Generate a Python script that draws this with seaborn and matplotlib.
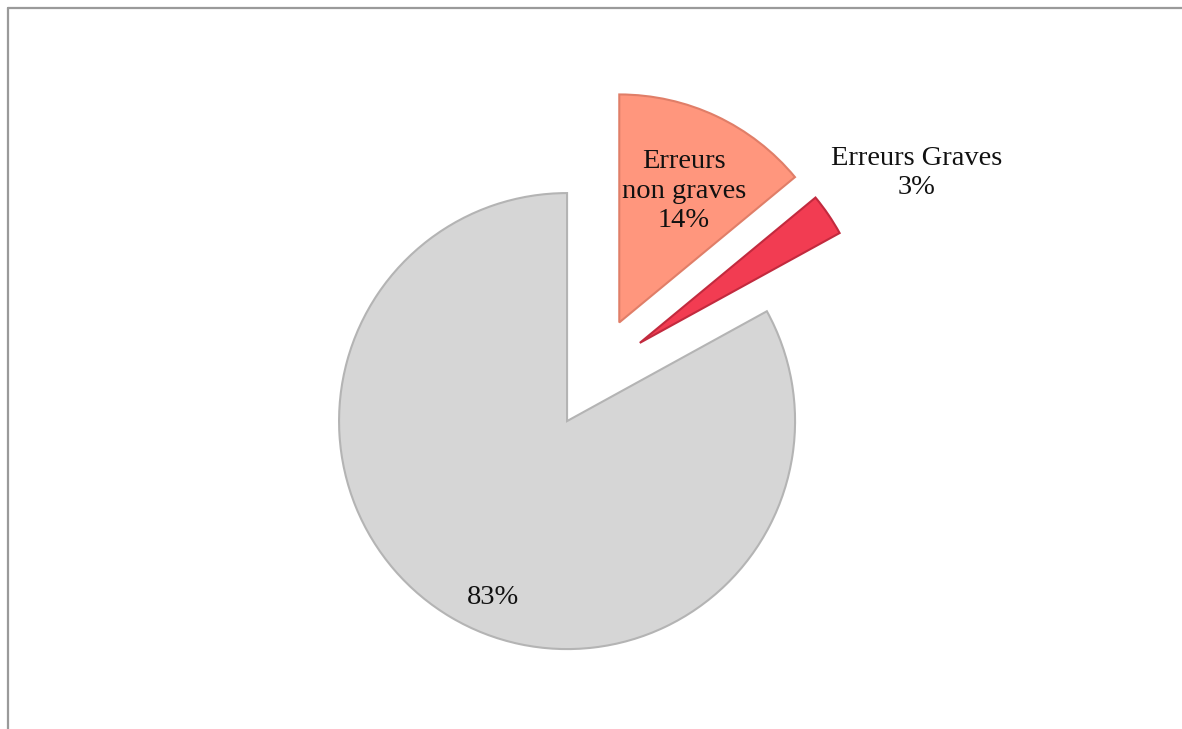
import matplotlib
matplotlib.use("Agg")
import matplotlib.pyplot as plt
import seaborn as sns
from matplotlib.lines import Line2D

sns.set_theme(style="white")
plt.rcParams['font.family'] = ['Liberation Serif', 'DejaVu Serif']

categories = ["Erreurs non graves", "Erreurs Graves", "Autres"]
values = [14, 3, 83]
colors = ["#FF967D", "#F23C52", "#D6D6D6"]
edges = ["#E07E68", "#C22A3E", "#B4B4B4"]

W, H = 1182, 729
R = 228
explode = [0.245 * R, 0.235 * R, 0.245 * R]

fig = plt.figure(figsize=(W / 100, H / 100), dpi=100)
ax = fig.add_axes([0, 0, 1, 1])

cx, cy = 595.5, H - 373
wedges, _ = ax.pie(values, colors=colors, explode=explode, startangle=90,
                   counterclock=False, center=(cx, cy), radius=R, frame=True,
                   wedgeprops=dict(linewidth=1.5))
for w, ec in zip(wedges, edges):
    w.set_edgecolor(ec)
ax.set_xlim(0, W)
ax.set_ylim(0, H)
ax.set_aspect("equal")
ax.axis("off")

fs = 20.5
ax.text(684, H - 191, "Erreurs\nnon graves\n14%", ha="center", va="center",
        fontsize=fs, color="#111111", linespacing=1.26)
ax.text(917, H - 173, "Erreurs Graves\n3%", ha="center", va="center",
        fontsize=fs, color="#111111", linespacing=1.26)
ax.text(493, H - 598, "83%", ha="center", va="center", fontsize=fs,
        color="#111111")

# outer chart frame (left and top borders)
bc = "#9A9A9A"
fig.add_artist(Line2D([7.5 / W, 7.5 / W], [0, 1 - 8 / H], color=bc, lw=1.6,
                      transform=fig.transFigure))
fig.add_artist(Line2D([7.5 / W, 1], [1 - 8 / H, 1 - 8 / H], color=bc, lw=1.6,
                      transform=fig.transFigure))

fig.savefig("out.png", dpi=100)
